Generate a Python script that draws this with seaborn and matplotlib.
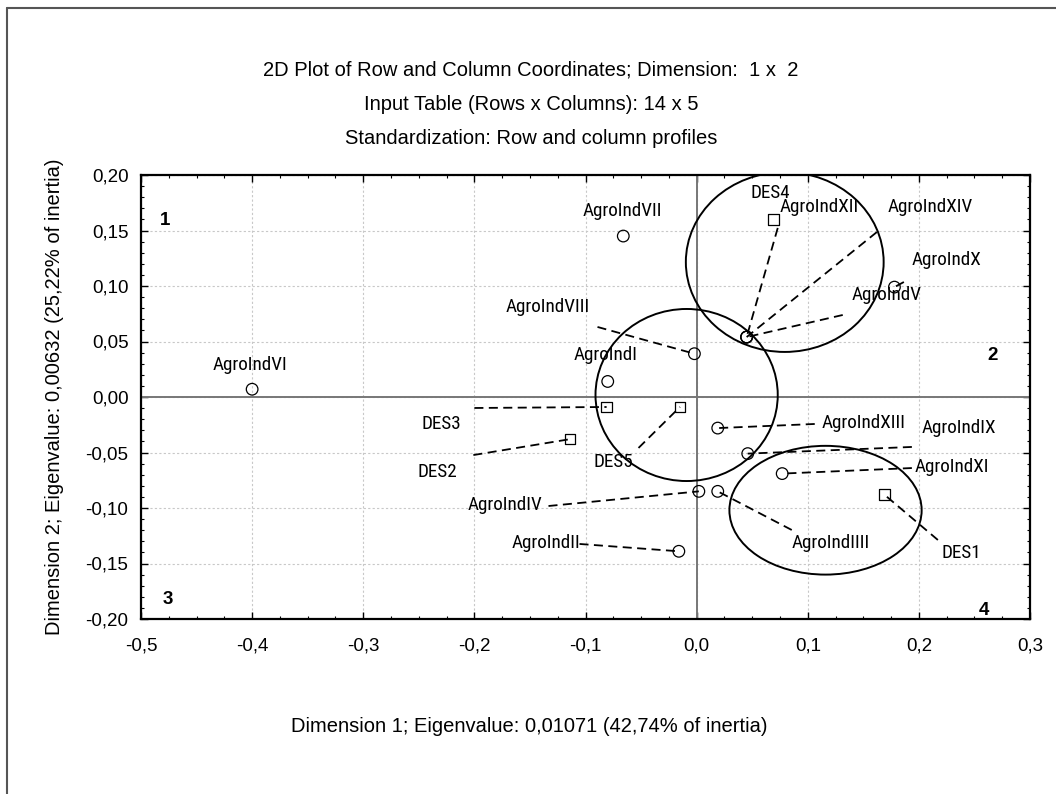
import numpy as np
import pandas as pd
import matplotlib
matplotlib.use("Agg")
import matplotlib.pyplot as plt
import seaborn as sns
from matplotlib.patches import Ellipse
from matplotlib.lines import Line2D
from matplotlib.ticker import MultipleLocator, FuncFormatter
from matplotlib import font_manager as fm

# ---------------- data ----------------
row_labels = ['AgroIndI', 'AgroIndII', 'AgroIndIIII', 'AgroIndIV', 'AgroIndV',
              'AgroIndVI', 'AgroIndVII', 'AgroIndVIII', 'AgroIndIX', 'AgroIndX',
              'AgroIndXI', 'AgroIndXII', 'AgroIndXIII', 'AgroIndXIV']
row_dim1 = [-0.080, -0.016, 0.019, 0.002, 0.045, -0.400, -0.066, -0.002,
            0.046, 0.178, 0.077, 0.045, 0.019, 0.045]
row_dim2 = [0.014, -0.139, -0.085, -0.085, 0.054, 0.007, 0.145, 0.039,
            -0.051, 0.099, -0.069, 0.054, -0.028, 0.054]

col_labels = ['DES1', 'DES2', 'DES3', 'DES4', 'DES5']
col_dim1 = [0.169, -0.114, -0.081, 0.069, -0.015]
col_dim2 = [-0.088, -0.038, -0.009, 0.160, -0.009]

x_ticks = [-0.5, -0.4, -0.3, -0.2, -0.1, 0.0, 0.1, 0.2, 0.3]
y_ticks = [-0.20, -0.15, -0.10, -0.05, 0.00, 0.05, 0.10, 0.15, 0.20]

title_lines = ["2D Plot of Row and Column Coordinates; Dimension:  1 x  2",
               "Input Table (Rows x Columns): 14 x 5",
               "Standardization: Row and column profiles"]
x_label = "Dimension 1; Eigenvalue: 0,01071 (42,74% of inertia)"
y_label = "Dimension 2; Eigenvalue: 0,00632 (25,22% of inertia)"

# ---------------- layout (label placement, data units) ----------------
label_pos = {
    'AgroIndI': (-0.0820, 0.0378), 'AgroIndII': (-0.1360, -0.1315),
    'AgroIndIIII': (0.1207, -0.1315), 'AgroIndIV': (-0.1721, -0.0973),
    'AgroIndV': (0.1712, 0.0919), 'AgroIndVI': (-0.4018, 0.0288),
    'AgroIndVII': (-0.0667, 0.1676), 'AgroIndVIII': (-0.1342, 0.0811),
    'AgroIndIX': (0.2360, -0.0279), 'AgroIndX': (0.2252, 0.1234),
    'AgroIndXI': (0.2297, -0.0631), 'AgroIndXII': (0.1099, 0.1712),
    'AgroIndXIII': (0.1505, -0.0234), 'AgroIndXIV': (0.2099, 0.1712),
    'DES1': (0.2378, -0.1405), 'DES2': (-0.2333, -0.0676),
    'DES3': (-0.2297, -0.0243), 'DES4': (0.0667, 0.1838),
    'DES5': (-0.0748, -0.0586),
}
leader_from = {
    'AgroIndII': (-0.1054, -0.1324), 'AgroIndIIII': (0.0856, -0.1198),
    'AgroIndIV': (-0.1333, -0.0982), 'AgroIndV': (0.1315, 0.0739),
    'AgroIndVIII': (-0.0892, 0.0631), 'AgroIndIX': (0.1937, -0.0450),
    'AgroIndX': (0.1865, 0.1036), 'AgroIndXI': (0.1937, -0.0640),
    'AgroIndXII': (0.0730, 0.1523), 'AgroIndXIII': (0.1063, -0.0243),
    'AgroIndXIV': (0.1622, 0.1486), 'DES1': (0.2171, -0.1288),
    'DES2': (-0.2009, -0.0523), 'DES3': (-0.2000, -0.0099),
    'DES5': (-0.0523, -0.0459),
}
quadrants = [("1", -0.4784, 0.1586), ("2", 0.2667, 0.0378),
             ("3", -0.4757, -0.1820), ("4", 0.2586, -0.1919)]
ellipses = [((0.0793, 0.1216), 0.178, 0.162),
            ((-0.009, 0.0018), 0.164, 0.155),
            ((0.116, -0.102), 0.173, 0.116)]

# ---------------- style ----------------
sns.set_theme(style="white")
plt.rcParams['font.family'] = ['Liberation Sans', 'DejaVu Sans']


def pick_narrow_font():
    prefs = [('liberationsansnarrow-regular', 14.0), ('arialnarrow', 14.0),
             ('robotocondensed-regular', 13.8), ('roboto_condensed-regular', 13.8),
             ('opensans_condensed-regular', 13.3), ('opensanscondensed-regular', 13.3),
             ('notosans-condensed.', 13.3), ('notosans_condensed-regular', 13.3),
             ('nimbussansnarrow-regular', 14.0), ('dejavusanscondensed.', 11.5)]
    files = [f.fname for f in fm.fontManager.ttflist]
    for key, size in prefs:
        for fn in files:
            base = fn.split('/')[-1].lower().replace(' ', '')
            if base.startswith(key):
                return fm.FontProperties(fname=fn, size=size)
    return fm.FontProperties(family=['Liberation Sans', 'DejaVu Sans'], size=11.5)


label_font = pick_narrow_font()

rows = pd.DataFrame({'label': row_labels, 'd1': row_dim1, 'd2': row_dim2})
cols = pd.DataFrame({'label': col_labels, 'd1': col_dim1, 'd2': col_dim2})

fig = plt.figure(figsize=(10.56, 7.94), dpi=100)
ax = fig.add_axes([141/1056, 1-619/794, (1030-141)/1056, (619-175)/794])

ax.set_xlim(-0.5, 0.3)
ax.set_ylim(-0.2, 0.2)
ax.set_xticks(x_ticks)
ax.set_yticks(y_ticks)
ax.xaxis.set_minor_locator(MultipleLocator(0.025))
ax.yaxis.set_minor_locator(MultipleLocator(0.01))
ax.xaxis.set_major_formatter(FuncFormatter(lambda v, p: f"{v:.1f}".replace('.', ',').replace('-0,0', '0,0')))
ax.yaxis.set_major_formatter(FuncFormatter(lambda v, p: f"{v:.2f}".replace('.', ',').replace('-0,00', '0,00')))
ax.grid(True, which='major', color='#c8c8c8', linestyle=(0, (2, 2)), linewidth=0.8)
ax.set_axisbelow(True)
ax.tick_params(which='both', direction='in', top=True, right=True,
               bottom=True, left=True, colors='black', labelsize=13.5)
ax.tick_params(which='major', length=5, width=1.0)
ax.tick_params(which='minor', length=2.5, width=0.8)
ax.tick_params(axis='x', pad=13)
ax.tick_params(axis='y', pad=9)
for s in ax.spines.values():
    s.set_color('black')
    s.set_linewidth(1.6)

ax.axhline(0, color='#777777', lw=1.4, zorder=1)
ax.axvline(0, color='#777777', lw=1.4, zorder=1)

for (c, w, h) in ellipses:
    ax.add_patch(Ellipse(c, w, h, fill=False, edgecolor='black', lw=1.4, zorder=3))

# leader lines
pts = {r.label: (r.d1, r.d2) for r in rows.itertuples()}
pts.update({r.label: (r.d1, r.d2) for r in cols.itertuples()})
for name, (lx, ly) in leader_from.items():
    px, py = pts[name]
    ax.plot([lx, px], [ly, py], color='black', lw=1.3,
            linestyle=(0, (5, 3)), zorder=4)

sns.scatterplot(data=rows, x='d1', y='d2', marker='o', s=70,
                facecolor='none', edgecolor='black', linewidth=0.9,
                ax=ax, zorder=5, legend=False)
sns.scatterplot(data=cols, x='d1', y='d2', marker='s', s=58,
                facecolor='none', edgecolor='black', linewidth=0.9,
                ax=ax, zorder=5, legend=False)

for name, (tx, ty) in label_pos.items():
    ax.text(tx, ty, name, ha='center', va='center', fontproperties=label_font,
            color='black', zorder=6)

for t, qx, qy in quadrants:
    ax.text(qx, qy, t, ha='center', va='center', fontsize=13.5,
            fontweight='bold', color='black', zorder=6)

ax.set_xlabel(x_label, fontsize=14.5, color='black')
ax.set_ylabel(y_label, fontsize=14.5, color='black')
ax.xaxis.set_label_coords((529-141)/889, (619-727)/444)
ax.xaxis.label.set_verticalalignment('center')
ax.yaxis.set_label_coords((55-141)/889, 0.5)
ax.yaxis.label.set_verticalalignment('center')

for t, yy in zip(title_lines, [70, 104, 139]):
    fig.text(531/1056, 1-yy/794, t, ha='center', va='center', fontsize=14.5, color='black')

# figure frame (top and left edges)
fig.add_artist(Line2D([7/1056, 1.0], [1-8/794, 1-8/794], transform=fig.transFigure,
                      color='#555555', lw=1.5))
fig.add_artist(Line2D([7/1056, 7/1056], [0.0, 1-8/794], transform=fig.transFigure,
                      color='#555555', lw=1.5))

fig.savefig("out.png", dpi=100)
